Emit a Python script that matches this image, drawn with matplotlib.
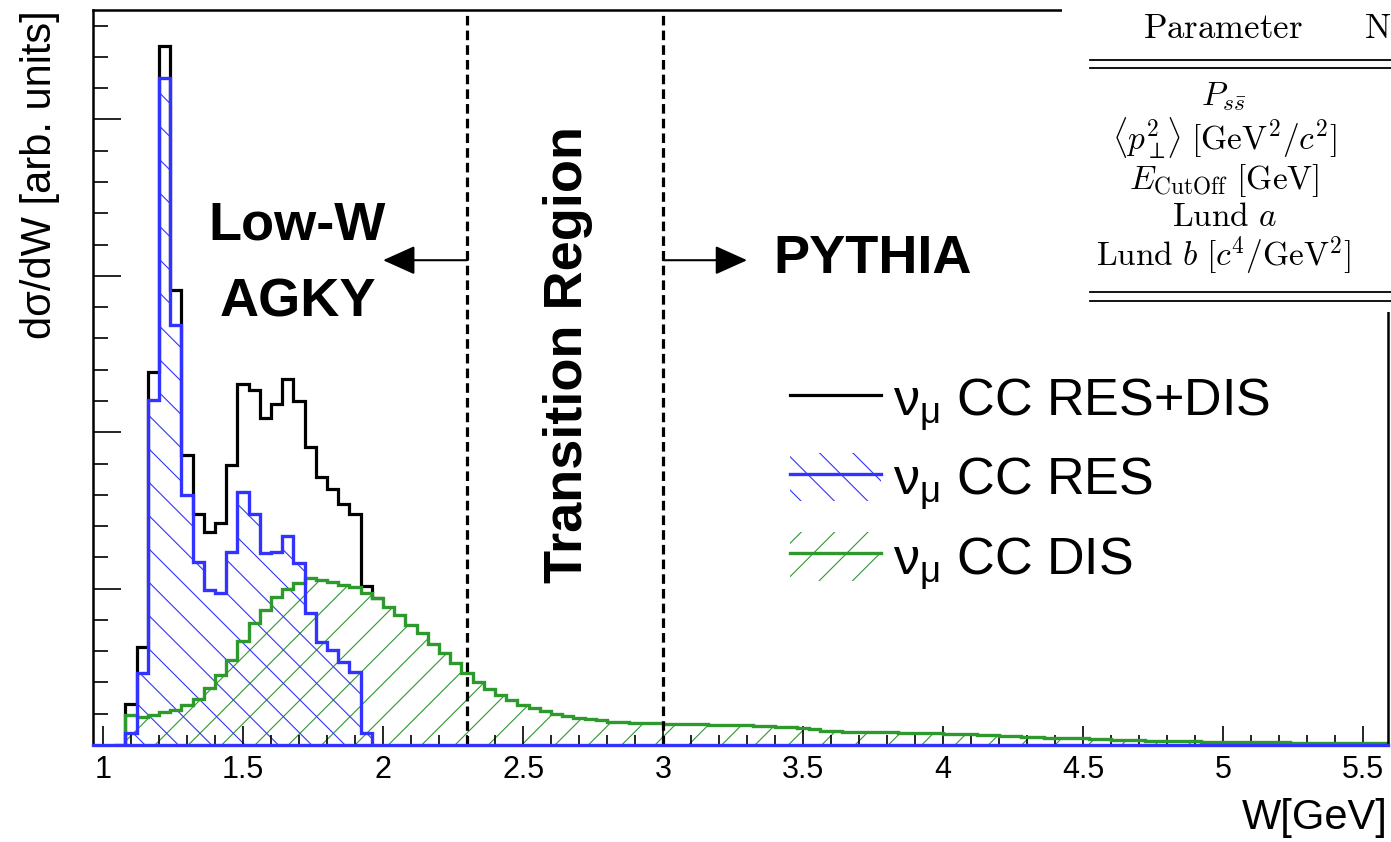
import numpy as np
import matplotlib.pyplot as plt
from matplotlib.patches import Patch, Rectangle
from matplotlib.lines import Line2D
from matplotlib.legend_handler import HandlerTuple
from matplotlib.ticker import MultipleLocator, FormatStrFormatter

plt.rcParams['font.family'] = ['Liberation Sans', 'DejaVu Sans']
plt.rcParams['hatch.linewidth'] = 0.8

# W binning (GeV): 0.04 wide bins, first filled bin starts at 1.08
w_lo = 1.08
w_bin = 0.04

# nu_mu CC RES (blue), bins from 1.08 to 1.96
res = [0.075, 0.458, 2.204, 4.264, 2.684, 1.597, 1.171, 0.990, 0.969, 1.235,
       1.619, 1.480, 1.229, 1.232, 1.335, 1.165, 0.841, 0.660, 0.607, 0.532,
       0.468, 0.075]

# nu_mu CC RES+DIS (black), bins from 1.08, visible part only
total = [0.262, 0.628, 2.385, 4.468, 2.907, 1.857, 1.476, 1.363, 1.417, 1.789,
         2.307, 2.273, 2.088, 2.183, 2.343, 2.200, 1.906, 1.714, 1.640, 1.544,
         1.476, 1.015, 0.937]

# nu_mu CC DIS (green), bins from 1.08 to 5.60
dis = [0.195, 0.180, 0.195, 0.210, 0.225, 0.255, 0.295, 0.362, 0.450, 0.545,
       0.665, 0.778, 0.862, 0.946, 1.000, 1.037, 1.065, 1.056, 1.040, 1.020,
       1.008, 0.970, 0.937, 0.884, 0.831, 0.767, 0.714, 0.645, 0.586, 0.522,
       0.458, 0.404, 0.355, 0.319, 0.288, 0.258, 0.236, 0.215, 0.200, 0.185,
       0.175, 0.165, 0.157, 0.150, 0.146, 0.143, 0.141, 0.139, 0.137, 0.135,
       0.134, 0.132, 0.130, 0.128, 0.127, 0.125, 0.123, 0.120, 0.117, 0.116,
       0.111, 0.104, 0.090, 0.088, 0.086, 0.085, 0.083, 0.082, 0.080, 0.078,
       0.076, 0.075, 0.074, 0.072, 0.070, 0.068, 0.066, 0.063, 0.060, 0.056,
       0.052, 0.048, 0.047, 0.046, 0.044, 0.042, 0.040, 0.037, 0.034, 0.032,
       0.030, 0.028, 0.027, 0.026, 0.025, 0.023, 0.022, 0.021, 0.020, 0.019,
       0.018, 0.017, 0.016, 0.016, 0.015, 0.014, 0.014, 0.013, 0.012, 0.012,
       0.011, 0.011, 0.010]

xticks = [1, 1.5, 2, 2.5, 3, 3.5, 4, 4.5, 5, 5.5]
region_cuts = [2.3, 3.0]

table_rows = [r'$P_{s\bar{s}}$',
              r'$\langle p_{\perp}^{2}\!\rangle\ [\mathrm{GeV}^{2}/c^{2}]$',
              r'$E_{\mathrm{CutOff}}\ [\mathrm{GeV}]$',
              r'$\mathrm{Lund}\ a$',
              r'$\mathrm{Lund}\ b\ [c^{4}/\mathrm{GeV}^{2}]$']
table_row_y = [97, 138, 181, 218, 256]

blue = '#3333ff'
green = '#2e9a2e'

res_edges = w_lo + w_bin * np.arange(len(res) + 1)
tot_edges = w_lo + w_bin * np.arange(len(total) + 1)
dis_edges = w_lo + w_bin * np.arange(len(dis) + 1)

W, H = 1391, 842
fig = plt.figure(figsize=(W / 100, H / 100), dpi=100)
ax = fig.add_axes([93 / W, 1 - 745 / H, (1388 - 93) / W, (745 - 10) / H])

# hatched fills
ax.stairs(dis, dis_edges, fill=True, facecolor='none', edgecolor=green,
          hatch='/', linewidth=0, zorder=1)
ax.stairs(res, res_edges, fill=True, facecolor='none', edgecolor=blue,
          hatch='\\', linewidth=0, zorder=1.1)

# outlines
ax.stairs([0] + total, np.concatenate([[w_lo - w_bin], tot_edges]), baseline=None,
          color='black', linewidth=2.3, zorder=2)
ax.stairs(dis, dis_edges, color=green, linewidth=2.4, zorder=2.2)
ax.stairs(res, res_edges, color=blue, linewidth=2.4, zorder=2.4)
ax.axhline(0, color=blue, linewidth=2.4, zorder=3, clip_on=False)

for xc in region_cuts:
    ax.axvline(xc, color='black', linewidth=2.3, linestyle=(0, (3, 1.6)), zorder=2.6)

ax.set_xlim(0.964, 5.589)
ax.set_ylim(0, 4.70)

ax.set_xticks(xticks)
ax.xaxis.set_major_formatter(FormatStrFormatter('%g'))
ax.xaxis.set_minor_locator(MultipleLocator(0.1))
ax.yaxis.set_major_locator(MultipleLocator(1))
ax.yaxis.set_minor_locator(MultipleLocator(0.2))
ax.tick_params(axis='x', which='major', direction='in', length=14, width=1.2,
               labelsize=22, pad=7)
ax.tick_params(axis='x', which='minor', direction='in', length=7, width=1.2)
ax.tick_params(axis='y', which='major', direction='in', length=20, width=1.2,
               labelleft=False)
ax.tick_params(axis='y', which='minor', direction='in', length=10.5, width=1.2)
for s in ax.spines.values():
    s.set_linewidth(1.8)

# region annotations
bold = dict(fontsize=39, fontweight='bold', ha='center', va='center')
ax.text(1.693, 3.32, 'Low-W', **bold)
ax.text(1.696, 2.83, 'AGKY', **bold)
ax.text(3.75, 3.11, 'PYTHIA', **bold)
ax.text(2.66, 2.50, 'Transition Region', rotation=90, **bold)
arrow = dict(arrowstyle='-|>,head_length=1.0,head_width=0.45', color='black',
             lw=1.5, mutation_scale=20, shrinkA=0, shrinkB=0)
ax.annotate('', xy=(2.0, 3.10), xytext=(2.3, 3.10), arrowprops=arrow)
ax.annotate('', xy=(3.30, 3.10), xytext=(3.0, 3.10), arrowprops=arrow)

# legend
h_tot = Line2D([], [], color='black', linewidth=2.3)
h_res = (Patch(facecolor='none', edgecolor=blue, hatch='\\', linewidth=0),
         Line2D([], [], color=blue, linewidth=2.4))
h_dis = (Patch(facecolor='none', edgecolor=green, hatch='/', linewidth=0),
         Line2D([], [], color=green, linewidth=2.4))
labels = [r'ν$_{\mathregular{μ}}$ CC RES+DIS', r'ν$_{\mathregular{μ}}$ CC RES',
          r'ν$_{\mathregular{μ}}$ CC DIS']
ax.legend([h_tot, h_res, h_dis], labels,
          handler_map={tuple: HandlerTuple(ndivide=1, pad=0)},
          loc='upper left', bbox_to_anchor=(790 / W, 1 - 374 / H),
          bbox_transform=fig.transFigure, frameon=False, fontsize=37.5,
          handlelength=1.75, handleheight=1.05, handletextpad=0.22,
          labelspacing=0.38, borderpad=0, borderaxespad=0)

# axis titles
fig.text(1388 / W, 1 - 818 / H, 'W[GeV]', ha='right', va='center', fontsize=30)
fig.text(40 / W, 1 - 10 / H, 'dσ/dW [arb. units]', rotation=90, ha='center',
         va='top', fontsize=30)

# parameter table overlay (top right)
fig.add_artist(Rectangle((1062 / W, 1 - 312 / H), 1, 1, transform=fig.transFigure,
                         facecolor='white', edgecolor='none', zorder=10))
for ypx in [60, 68, 292, 301]:
    fig.add_artist(Line2D([1090 / W, 1.0], [1 - ypx / H] * 2, transform=fig.transFigure,
                          color='black', linewidth=1.3, zorder=11))
fig.text(1223 / W, 1 - 28 / H, r'$\mathrm{Parameter}$', ha='center', va='center',
         fontsize=25, math_fontfamily='cm', zorder=11)
fig.text(1364 / W, 1 - 28 / H, r'$\mathrm{N}$', ha='left', va='center',
         fontsize=25, math_fontfamily='cm', zorder=11)
for ypx, row in zip(table_row_y, table_rows):
    fig.text(1224 / W, 1 - ypx / H, row, ha='center', va='center', fontsize=24,
             math_fontfamily='cm', zorder=11)

fig.savefig('out.png', dpi=100)
